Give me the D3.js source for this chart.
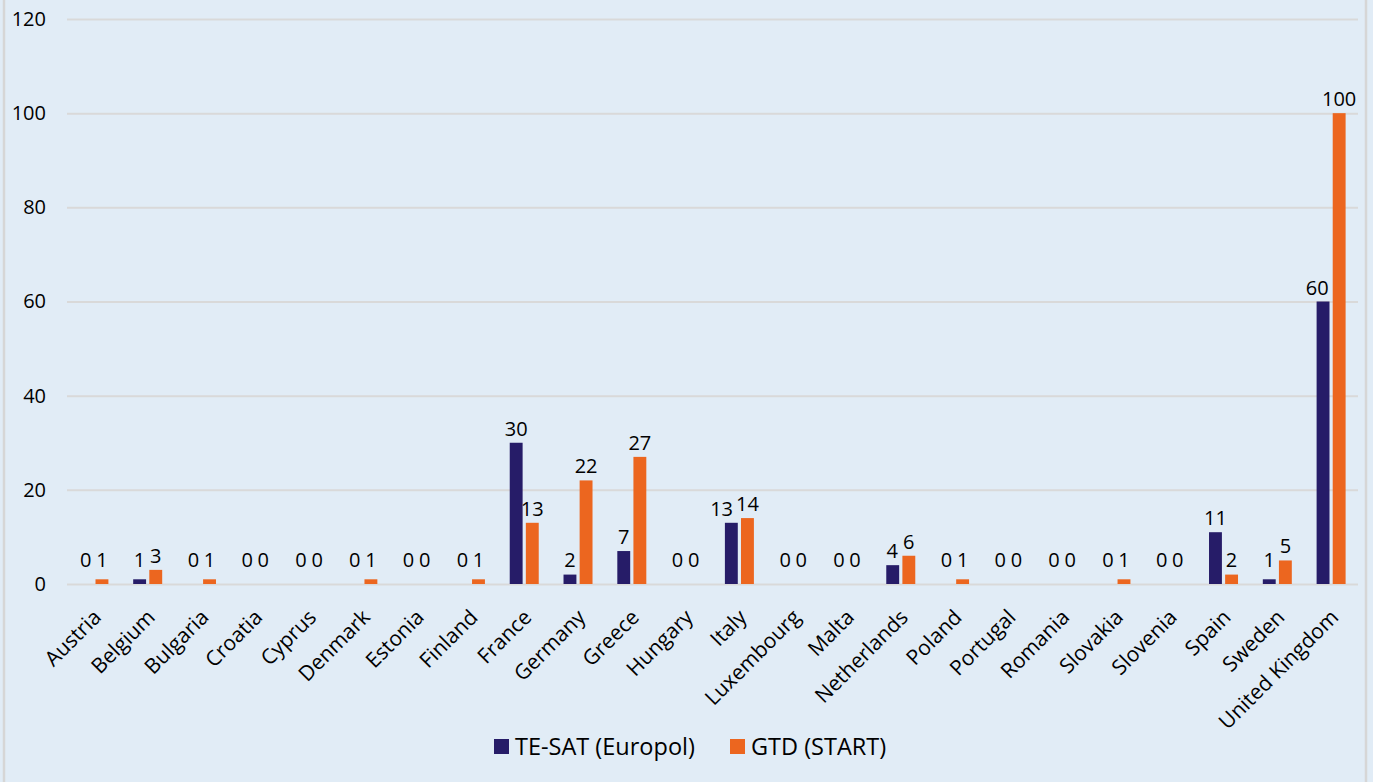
<!DOCTYPE html>
<html>
<head>
<meta charset="utf-8">
<script src="https://cdn.jsdelivr.net/npm/d3@7"></script>
<style>
  html, body { margin: 0; padding: 0; background: #e1ecf6; }
  svg { display: block; font-family: 'Open Sans', sans-serif; }
</style>
</head>
<body>
<svg id="chart" width="1373" height="782"></svg>
<script>
const countries = ['Austria', 'Belgium', 'Bulgaria', 'Croatia', 'Cyprus', 'Denmark', 'Estonia', 'Finland',
  'France', 'Germany', 'Greece', 'Hungary', 'Italy', 'Luxembourg', 'Malta', 'Netherlands', 'Poland',
  'Portugal', 'Romania', 'Slovakia', 'Slovenia', 'Spain', 'Sweden', 'United Kingdom']
const teSat = [0, 1, 0, 0, 0, 0, 0, 0, 30, 2, 7, 0, 13, 0, 0, 4, 0, 0, 0, 0, 0, 11, 1, 60]
const gtd = [1, 3, 1, 0, 0, 1, 0, 1, 13, 22, 27, 0, 14, 0, 0, 6, 1, 0, 0, 1, 0, 2, 5, 100]
const seriesNames = ['TE-SAT (Europol)', 'GTD (START)']
const yTicks = [0, 20, 40, 60, 80, 100, 120]

const colors = { 'TE-SAT (Europol)': '#261c68', 'GTD (START)': '#ec661f' }
const margin = { top: 19, left: 67, right: 15, bottom: 198 }
const W = 1373, H = 782
const width = W - margin.left - margin.right
const height = H - margin.top - margin.bottom

const svg = d3.select('#chart')

// outer frame
svg.append('rect')
  .attr('x', 4).attr('y', -3)
  .attr('width', 1362).attr('height', H + 6)
  .attr('fill', '#e1ecf6')
  .attr('stroke', '#d6d6d6')
  .attr('stroke-width', 2.5)

const g = svg.append('g').attr('transform', `translate(${margin.left},${margin.top})`)

const x0 = d3.scaleBand().domain(countries).range([0, width]).padding(0)
const x1 = d3.scaleBand().domain(seriesNames)
  .range([x0.bandwidth() / 2 - 14.5, x0.bandwidth() / 2 + 14.5])
  .paddingInner(0.2)
const y = d3.scaleLinear().domain([0, 120]).range([height, 0])

// gridlines + y labels
const yAxis = g.append('g')
  .call(d3.axisLeft(y).tickValues(yTicks).tickSize(-width).tickPadding(21))
yAxis.select('.domain').remove()
yAxis.selectAll('.tick line').attr('stroke', '#d9d9d9').attr('stroke-width', 2)
yAxis.selectAll('.tick text').attr('font-size', 20).attr('fill', '#000')
  .attr('font-family', "'Open Sans', sans-serif")

const rows = countries.map((c, i) => ({ country: c, values: [teSat[i], gtd[i]] }))

const groups = g.selectAll('.grp').data(rows).enter().append('g')
  .attr('class', 'grp')
  .attr('transform', d => `translate(${x0(d.country)},0)`)

groups.selectAll('rect').data(d => seriesNames.map((s, k) => ({ s, v: d.values[k] })))
  .enter().append('rect')
  .attr('x', d => x1(d.s))
  .attr('width', x1.bandwidth())
  .attr('y', d => y(d.v))
  .attr('height', d => height - y(d.v))
  .attr('fill', d => colors[d.s])

// data labels
const labelY = v => Math.min(y(v), y(0) - 10) - 7
groups.each(function(d) {
  const grp = d3.select(this)
  const labels = seriesNames.map((s, k) => grp.append('text')
    .attr('class', 'lbl')
    .attr('x', x1(s) + x1.bandwidth() / 2)
    .attr('y', labelY(d.values[k]))
    .attr('text-anchor', 'middle')
    .attr('font-size', 20)
    .attr('fill', '#000')
    .text(d.values[k]))
  // nudge the first label left if it runs into the neighbouring bar or label
  const a = labels[0].node().getBBox()
  const b = labels[1].node().getBBox()
  const barTop = y(d.values[1])
  let limit = Infinity
  if (barTop < a.y + a.height) limit = x1(seriesNames[1]) - 4
  if (b.y < a.y + a.height && b.y + b.height > a.y) limit = Math.min(limit, b.x - 3)
  const over = a.x + a.width - limit
  if (over > 0) labels[0].attr('x', +labels[0].attr('x') - over)
})

// x labels
g.append('g').selectAll('text').data(countries).enter().append('text')
  .attr('transform', d => `translate(${x0(d) + x0.bandwidth() / 2 - 2},${height + 24}) rotate(-45)`)
  .attr('text-anchor', 'end')
  .attr('dy', '0.71em')
  .attr('font-size', 21)
  .attr('fill', '#000')
  .text(d => d)

// legend
const legend = svg.append('g').attr('transform', 'translate(494,739)')
const legendX = [0, 236]
seriesNames.forEach((s, i) => {
  const item = legend.append('g').attr('transform', `translate(${legendX[i]},0)`)
  item.append('rect').attr('width', 15).attr('height', 15).attr('fill', colors[s])
  item.append('text').attr('x', 21).attr('y', 7.5).attr('dy', '0.35em')
    .attr('font-size', 23.5).attr('fill', '#000').text(s)
})
</script>
</body>
</html>
